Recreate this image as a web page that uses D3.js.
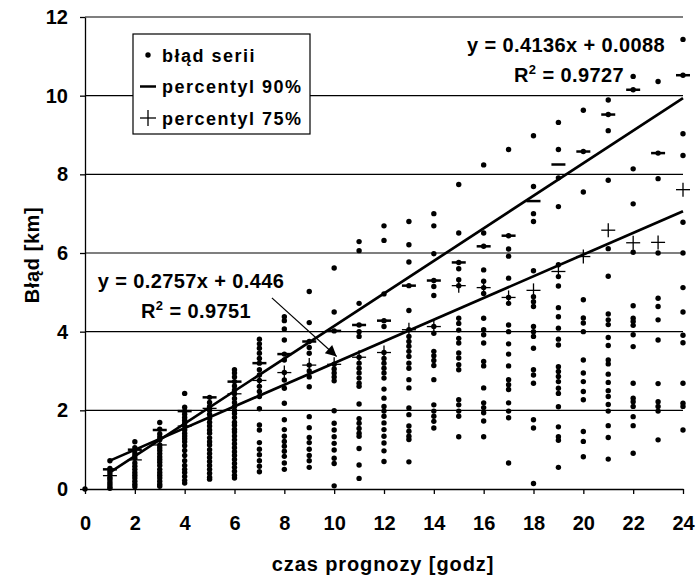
<!DOCTYPE html>
<html>
<head>
<meta charset="utf-8">
<script src="https://cdn.jsdelivr.net/npm/d3@7/dist/d3.min.js"></script>
<style>
body { margin: 0; background: #fff; }
svg { display: block; }
text { font-family: "Liberation Sans", Arial, sans-serif; font-weight: bold; fill: #000; }
</style>
</head>
<body>
<div id="chart"></div>
<script>
// lead time [h] for every column of points
var hours = [0, 1, 2, 3, 4, 5, 6, 7, 8, 9, 10, 11, 12, 13, 14, 15, 16, 17, 18, 19, 20, 21, 22, 23, 24];

// single series errors [km], one list per lead time
var seriesErrors = [
    [0],
    [0.72, 0.52, 0.45, 0.38, 0.3, 0.25, 0.18, 0.12, 0.06, 0.02],
    [1.2, 1.05, 0.92, 0.85, 0.78, 0.66, 0.58, 0.5, 0.42, 0.35, 0.28, 0.2, 0.12, 0.06],
    [1.69, 1.52, 1.4, 1.32, 1.25, 1.12, 1.05, 0.98, 0.9, 0.82, 0.75, 0.68, 0.6, 0.5, 0.42, 0.35, 0.28, 0.2, 0.12, 0.07],
    [2.43, 2.08, 1.98, 1.9, 1.82, 1.75, 1.68, 1.6, 1.5, 1.42, 1.35, 1.28, 1.2, 1.1, 0.98, 0.85, 0.72, 0.6, 0.5, 0.42, 0.32, 0.22, 0.15],
    [2.33, 2.2, 2.1, 2.0, 1.9, 1.8, 1.7, 1.6, 1.5, 1.42, 1.3, 1.2, 1.12, 1.0, 0.9, 0.8, 0.7, 0.6, 0.5, 0.4, 0.3, 0.25],
    [3.03, 2.95, 2.85, 2.73, 2.62, 2.52, 2.42, 2.3, 2.2, 2.1, 2.0, 1.92, 1.82, 1.7, 1.62, 1.52, 1.45, 1.35, 1.25, 1.15, 1.05, 0.95, 0.85, 0.75, 0.65, 0.55, 0.45, 0.35, 0.28],
    [3.81, 3.69, 3.58, 3.45, 3.32, 3.2, 3.03, 2.9, 2.76, 2.61, 2.48, 2.35, 2.04, 1.63, 1.5, 1.18, 1.01, 0.87, 0.72, 0.58, 0.44],
    [4.38, 4.28, 4.07, 3.79, 3.43, 3.28, 2.96, 2.77, 2.56, 2.18, 1.76, 1.51, 1.34, 1.21, 1.09, 0.96, 0.83, 0.66, 0.5],
    [5.02, 4.23, 3.75, 3.6, 3.45, 3.15, 3.0, 2.85, 2.6, 1.84, 1.56, 1.31, 1.18, 1.01, 0.85, 0.72, 0.55],
    [5.62, 4.5, 4.02, 3.17, 3.05, 2.95, 2.85, 2.75, 1.99, 1.67, 1.5, 1.33, 1.16, 0.99, 0.78, 0.65, 0.08],
    [6.29, 6.06, 4.72, 4.17, 4.0, 3.88, 3.35, 3.2, 3.07, 2.95, 2.82, 2.69, 2.61, 2.16, 1.79, 1.67, 1.54, 1.42, 1.34, 1.03, 0.61, 0.27],
    [6.69, 6.32, 4.96, 4.28, 4.13, 3.47, 3.32, 3.2, 3.07, 2.95, 2.82, 2.54, 2.31, 2.1, 1.98, 1.85, 1.68, 1.51, 1.34, 1.17, 0.97, 0.7],
    [6.8, 6.21, 5.77, 5.17, 4.54, 4.05, 3.88, 3.75, 3.63, 3.5, 3.37, 3.2, 3.07, 2.78, 2.57, 2.06, 1.89, 1.6, 1.47, 1.34, 1.26, 0.69],
    [7.0, 6.69, 5.98, 5.3, 5.15, 4.92, 4.13, 3.96, 3.5, 3.39, 3.27, 3.14, 2.78, 2.14, 1.98, 1.85, 1.72, 1.55],
    [7.74, 6.51, 5.76, 5.6, 5.32, 5.17, 4.34, 4.21, 4.04, 3.83, 3.71, 3.46, 3.33, 3.16, 3.03, 2.27, 2.14, 1.98, 1.85, 1.33],
    [8.24, 6.51, 6.17, 5.57, 5.28, 5.12, 4.97, 4.34, 4.05, 3.92, 3.71, 3.24, 3.13, 2.57, 2.19, 2.07, 1.94, 1.73, 1.33],
    [8.63, 6.44, 6.1, 5.92, 5.36, 4.87, 4.72, 4.17, 4.0, 3.69, 3.43, 3.13, 2.78, 2.65, 2.53, 2.19, 1.98, 1.81, 0.66],
    [8.98, 7.69, 7.0, 6.8, 5.55, 4.89, 4.76, 4.64, 4.13, 4.0, 3.88, 3.58, 3.03, 2.9, 2.69, 1.76, 1.55, 0.14],
    [9.32, 8.63, 7.91, 7.18, 5.7, 5.4, 5.16, 4.61, 4.38, 4.09, 3.81, 3.66, 3.11, 2.99, 2.86, 2.73, 2.56, 2.43, 2.09, 1.58, 1.33, 1.24, 0.55],
    [9.63, 8.58, 7.55, 4.81, 4.35, 4.22, 4.0, 3.28, 2.95, 2.73, 2.48, 2.27, 1.46, 1.21, 0.82],
    [9.89, 9.52, 9.11, 7.85, 6.11, 5.41, 4.45, 4.3, 4.18, 3.85, 3.65, 3.28, 3.18, 2.92, 2.71, 2.5, 2.35, 2.15, 1.98, 1.61, 1.31, 0.76],
    [10.49, 10.15, 8.14, 7.25, 6.02, 4.66, 4.34, 4.26, 4.16, 3.92, 3.62, 2.69, 2.31, 2.22, 2.1, 1.84, 1.61, 0.91],
    [10.36, 8.54, 7.89, 6.0, 4.85, 4.64, 4.3, 3.79, 2.68, 2.22, 2.1, 1.98, 1.25],
    [11.43, 10.52, 9.03, 8.48, 6.78, 6.0, 5.12, 4.5, 3.91, 3.72, 2.69, 2.18, 2.1, 1.5]
];

// percentiles, lead times 1..24
var pctHours = [1, 2, 3, 4, 5, 6, 7, 8, 9, 10, 11, 12, 13, 14, 15, 16, 17, 18, 19, 20, 21, 22, 23, 24];
var p90 = [0.5, 1.0, 1.5, 1.98, 2.33, 2.73, 3.2, 3.43, 3.75, 4.02, 4.17, 4.28, 5.17, 5.3, 5.76, 6.17, 6.44, 7.32, 8.25, 8.58, 9.52, 10.15, 8.54, 10.52];
var p75 = [0.34, 0.74, 1.12, 1.6, 2.05, 2.42, 2.76, 2.96, 3.15, 3.17, 3.35, 3.47, 4.05, 4.13, 5.17, 5.12, 4.87, 5.05, 5.53, 5.91, 6.58, 6.26, 6.27, 7.61];

// linear trends [slope, intercept, R2]
var trend90 = [0.4136, 0.0088, 0.9727];
var trend75 = [0.2757, 0.446, 0.9751];

var xTicks = [0, 2, 4, 6, 8, 10, 12, 14, 16, 18, 20, 22, 24];
var yTicks = [0, 2, 4, 6, 8, 10, 12];
var legendLabels = ["błąd serii", "percentyl 90%", "percentyl 75%"];

var W = 696, H = 583;
var mLeft = 85, mRight = 683, mTop = 17, mBottom = 489;

var svg = d3.select("#chart").append("svg")
    .attr("width", W)
    .attr("height", H);

var x = d3.scaleLinear().domain([0, 24]).range([mLeft, mRight]);
var y = d3.scaleLinear().domain([0, 12]).range([mBottom, mTop]);

// horizontal grid
svg.append("g")
    .selectAll("line")
    .data(yTicks.filter(function(d) { return d > 0; }))
    .enter().append("line")
    .attr("x1", mLeft).attr("x2", mRight)
    .attr("y1", function(d) { return y(d); })
    .attr("y2", function(d) { return y(d); })
    .attr("stroke", "#000")
    .attr("stroke-width", 1.2);

// axes
var xAxis = svg.append("g")
    .attr("transform", "translate(0," + mBottom + ")")
    .call(d3.axisBottom(x).tickValues(xTicks).tickSize(5).tickPadding(22).tickSizeOuter(0));
var yAxis = svg.append("g")
    .attr("transform", "translate(" + mLeft + ",0)")
    .call(d3.axisLeft(y).tickValues(yTicks).tickSize(5).tickPadding(12).tickSizeOuter(0));
[xAxis, yAxis].forEach(function(a) {
    a.selectAll("path, line").attr("stroke", "#000").attr("stroke-width", 1.3);
    a.selectAll("text")
        .attr("font-size", 20)
        .attr("font-family", "'Liberation Sans', Arial, sans-serif")
        .attr("font-weight", "bold")
        .attr("fill", "#000");
});

// axis titles
svg.append("text")
    .attr("x", 383)
    .attr("y", 571)
    .attr("text-anchor", "middle")
    .attr("font-size", 20)
    .attr("letter-spacing", 0.9)
    .text("czas prognozy [godz]");
svg.append("text")
    .attr("transform", "translate(39," + ((mTop + mBottom) / 2 + 2) + ") rotate(-90)")
    .attr("text-anchor", "middle")
    .attr("font-size", 20)
    .attr("letter-spacing", 0.6)
    .text("Błąd [km]");

// trend lines
function trendLine(t) {
    return [[1, t[0] * 1 + t[1]], [24, t[0] * 24 + t[1]]];
}
var line = d3.line()
    .x(function(d) { return x(d[0]); })
    .y(function(d) { return y(d[1]); });
[trend90, trend75].forEach(function(t) {
    svg.append("path")
        .attr("d", line(trendLine(t)))
        .attr("fill", "none")
        .attr("stroke", "#000")
        .attr("stroke-width", 2.7);
});

// points
var pts = [];
seriesErrors.forEach(function(list, i) {
    list.forEach(function(v) { pts.push([hours[i], v]); });
});
svg.append("g")
    .selectAll("circle")
    .data(pts)
    .enter().append("circle")
    .attr("cx", function(d) { return x(d[0]); })
    .attr("cy", function(d) { return y(d[1]); })
    .attr("r", 2.7)
    .attr("fill", "#000");

// percentile 90 - dash
svg.append("g")
    .selectAll("line")
    .data(pctHours)
    .enter().append("line")
    .attr("x1", function(d) { return x(d) - 7; })
    .attr("x2", function(d) { return x(d) + 7; })
    .attr("y1", function(d, i) { return y(p90[i]); })
    .attr("y2", function(d, i) { return y(p90[i]); })
    .attr("stroke", "#000")
    .attr("stroke-width", 2.5);

// percentile 75 - plus
var plus = svg.append("g")
    .selectAll("g")
    .data(pctHours)
    .enter().append("g")
    .attr("transform", function(d, i) { return "translate(" + x(d) + "," + y(p75[i]) + ")"; });
plus.append("line").attr("x1", -7).attr("x2", 7).attr("stroke", "#000").attr("stroke-width", 1.3);
plus.append("line").attr("y1", -7).attr("y2", 7).attr("stroke", "#000").attr("stroke-width", 1.3);

// equations
function eqText(t) {
    return "y = " + t[0] + "x + " + t[1];
}
function r2Text(g, t) {
    g.append("tspan").text("R");
    g.append("tspan").attr("font-size", 13).attr("dy", -8).text("2");
    g.append("tspan").attr("dy", 8).text(" = " + t[2]);
}
svg.append("text")
    .attr("x", 566).attr("y", 52)
    .attr("text-anchor", "middle")
    .attr("font-size", 20)
    .attr("letter-spacing", 0.4)
    .text(eqText(trend90));
r2Text(svg.append("text")
    .attr("x", 569).attr("y", 82)
    .attr("text-anchor", "middle")
    .attr("font-size", 20)
    .attr("letter-spacing", 0.4), trend90);

svg.append("text")
    .attr("x", 191).attr("y", 288)
    .attr("text-anchor", "middle")
    .attr("font-size", 20)
    .attr("letter-spacing", 0.4)
    .text(eqText(trend75));
r2Text(svg.append("text")
    .attr("x", 196).attr("y", 318)
    .attr("text-anchor", "middle")
    .attr("font-size", 20)
    .attr("letter-spacing", 0.4), trend75);

// arrow pointing to the 75% trend
var defs = svg.append("defs");
defs.append("marker")
    .attr("id", "head")
    .attr("viewBox", "0 0 10 10")
    .attr("refX", 10).attr("refY", 5)
    .attr("markerWidth", 16).attr("markerHeight", 11)
    .attr("markerUnits", "userSpaceOnUse")
    .attr("orient", "auto")
    .append("path")
    .attr("d", "M0,0 L10,5 L0,10 Z")
    .attr("fill", "#000");
svg.append("line")
    .attr("x1", x(7.5)).attr("y1", y(4.86))
    .attr("x2", x(10.1)).attr("y2", y(3.37))
    .attr("stroke", "#000")
    .attr("stroke-width", 1.2)
    .attr("marker-end", "url(#head)");

// legend
var lg = svg.append("g").attr("transform", "translate(133,34)");
lg.append("rect")
    .attr("width", 177).attr("height", 100)
    .attr("fill", "#fff")
    .attr("stroke", "#000")
    .attr("stroke-width", 1.2);
legendLabels.forEach(function(lbl, i) {
    var cy = 21 + i * 31.5;
    if (i == 0) {
        lg.append("circle").attr("cx", 15).attr("cy", cy).attr("r", 2.7).attr("fill", "#000");
    } else if (i == 1) {
        lg.append("line").attr("x1", 7).attr("x2", 23).attr("y1", cy).attr("y2", cy)
            .attr("stroke", "#000").attr("stroke-width", 2.5);
    } else {
        lg.append("line").attr("x1", 7).attr("x2", 23).attr("y1", cy).attr("y2", cy)
            .attr("stroke", "#000").attr("stroke-width", 1.3);
        lg.append("line").attr("x1", 15).attr("x2", 15).attr("y1", cy - 8).attr("y2", cy + 8)
            .attr("stroke", "#000").attr("stroke-width", 1.3);
    }
    lg.append("text")
        .attr("x", 29).attr("y", cy + 6.5)
        .attr("font-size", 18)
        .attr("letter-spacing", 1.5)
        .text(lbl);
});
</script>
</body>
</html>
